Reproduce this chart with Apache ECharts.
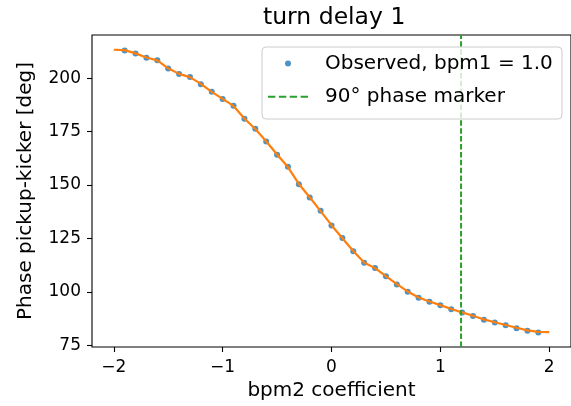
<!DOCTYPE html>
<html>
<head>
<meta charset="utf-8">
<script src="https://cdn.jsdelivr.net/npm/echarts@6/dist/echarts.min.js"></script>
<style>html,body{margin:0;padding:0;background:#fff}#c{width:571px;height:406px}</style>
</head>
<body>
<div id="c"></div>
<script>
// Observed points (bpm2 coefficient -> phase)
const obsX = [-1.9,-1.8,-1.7,-1.6,-1.5,-1.4,-1.3,-1.2,-1.1,-1.0,-0.9,-0.8,-0.7,-0.6,-0.5,-0.4,-0.3,-0.2,-0.1,0.0,0.1,0.2,0.3,0.4,0.5,0.6,0.7,0.8,0.9,1.0,1.1,1.2,1.3,1.4,1.5,1.6,1.7,1.8,1.9];
const obsY = [213.0,211.6,209.6,208.4,204.5,201.9,200.6,197.2,193.6,190.2,187.1,181.0,176.3,170.4,164.2,158.5,150.4,144.2,137.9,131.1,125.2,119.0,113.6,111.2,107.3,103.5,100.1,97.3,95.4,93.7,91.9,90.3,88.7,86.9,85.7,84.4,83.0,81.8,81.0];
// Orange curve
const lineX = [-2.0,-1.9,-1.8,-1.7,-1.6,-1.5,-1.4,-1.3,-1.2,-1.1,-1.0,-0.9,-0.8,-0.7,-0.6,-0.5,-0.4,-0.3,-0.2,-0.1,0.0,0.1,0.2,0.3,0.4,0.5,0.6,0.7,0.8,0.9,1.0,1.1,1.2,1.3,1.4,1.5,1.6,1.7,1.8,1.9,2.0];
const lineY = [213.3,213.1,211.6,209.7,208.3,204.6,202.0,200.5,197.3,193.6,190.3,187.0,181.1,176.2,170.5,164.3,158.4,150.5,144.3,137.8,131.2,125.1,119.1,113.7,111.1,107.4,103.6,100.2,97.4,95.5,93.8,92.0,90.4,88.8,87.1,85.8,84.5,83.2,82.0,81.3,81.2];
const markerX = [1.19];
const xTicks = [-2,-1,0,1,2];
const yTicks = [75,100,125,150,175,200];
const xRange = [-2.2, 2.2];
const yRange = [74.2, 220.2];

const font = 'DejaVu Sans';
const chart = echarts.init(document.getElementById('c'), null, {renderer:'canvas'});
const obsData = obsX.map((x,i)=>[x, obsY[i]]);
const lineData = lineX.map((x,i)=>[x, lineY[i]]);
const markerData = [[markerX[0], yRange[0]], [markerX[0], yRange[1]]];
const dashIcon = 'path://M0,0H7.4V2H0Z M10.9,0H18.3V2H10.9Z M21.7,0H29.1V2H21.7Z M32.6,0H40V2H32.6Z';

chart.setOption({
  animation:false,
  backgroundColor:'#fff',
  title:{text:'turn delay 1', left:258, top:1, textStyle:{fontFamily:font, fontSize:23.5, fontWeight:'normal', color:'#000'}},
  grid:{left:92, top:35, width:480, height:314.5, show:true, borderColor:'#000', borderWidth:1.1, backgroundColor:'transparent'},
  xAxis:{type:'value', min:xRange[0], max:xRange[1],
    name:'bpm2 coefficient', nameLocation:'middle', nameGap:34,
    nameTextStyle:{fontFamily:font, fontSize:20, color:'#000'},
    axisLine:{show:false, onZero:false}, splitLine:{show:false},
    axisTick:{show:true, customValues:xTicks, length:5, lineStyle:{color:'#000', width:1.1}},
    axisLabel:{customValues:xTicks, margin:12, fontFamily:font, fontSize:17, color:'#000', formatter:v=>String(v).replace('-','\u2212')}
  },
  yAxis:{type:'value', min:yRange[0], max:yRange[1],
    name:'Phase pickup-kicker [deg]', nameLocation:'middle', nameGap:56,
    nameTextStyle:{fontFamily:font, fontSize:20, color:'#000'},
    axisLine:{show:false, onZero:false}, splitLine:{show:false},
    axisTick:{show:true, customValues:yTicks, length:5, lineStyle:{color:'#000', width:1.1}},
    axisLabel:{customValues:yTicks, margin:11, fontFamily:font, fontSize:17, color:'#000'}
  },
  legend:[
    {data:['Observed, bpm1 = 1.0'], left:285, top:53.5, padding:0, itemWidth:6, itemHeight:6, icon:'circle',
     formatter:n=>'{t|'+n+'}',
     textStyle:{fontFamily:font, fontSize:20, color:'#000', lineHeight:20,
       rich:{t:{fontFamily:font, fontSize:20, color:'#000', lineHeight:20, padding:[0,0,0,29]}}}},
    {data:[{name:'90° phase marker', icon:dashIcon}], left:268, top:86.7, padding:0, itemWidth:40, itemHeight:2,
     formatter:n=>'{t|'+n+'}',
     textStyle:{fontFamily:font, fontSize:20, color:'#000', lineHeight:20,
       rich:{t:{fontFamily:font, fontSize:20, color:'#000', lineHeight:20, padding:[0,0,0,12]}}}}
  ],
  graphic:[{type:'rect', z:3, shape:{x:262, y:47, width:300, height:72, r:4},
    style:{fill:'rgba(255,255,255,0.8)', stroke:'#cccccc', lineWidth:1}}],
  series:[
    {name:'Observed, bpm1 = 1.0', type:'scatter', data:obsData, symbol:'circle', symbolSize:6,
     itemStyle:{color:'#1f77b4'}, z:2},
    {name:'fit', type:'line', data:lineData, showSymbol:false, symbol:'none',
     lineStyle:{color:'#ff7f0e', width:2.2}, z:2.5},
    {name:'90° phase marker', type:'line', data:markerData, showSymbol:false, symbol:'none',
     lineStyle:{color:'#2ca02c', width:2, type:[5.5,2.4]}, itemStyle:{color:'#2ca02c'}, z:2.6}
  ]
});
</script>
</body>
</html>
